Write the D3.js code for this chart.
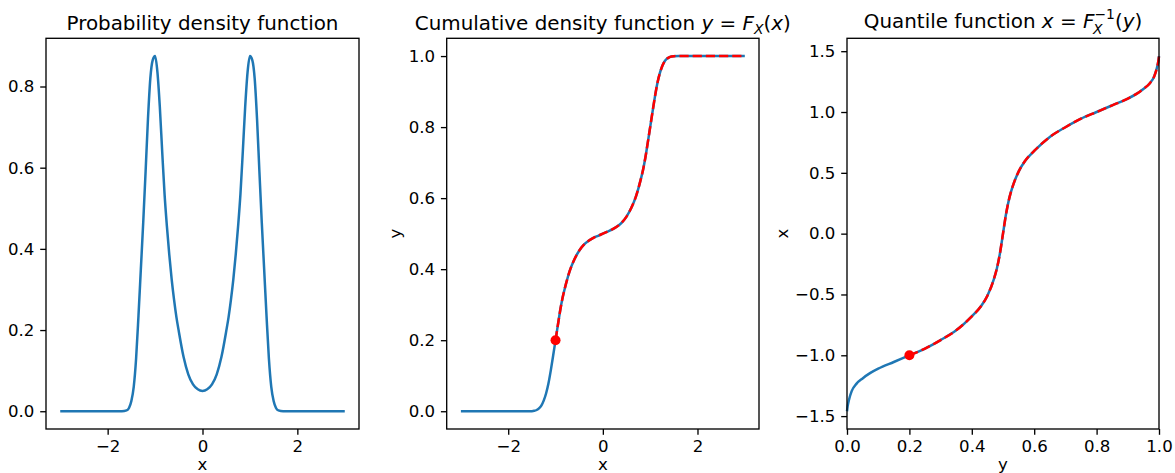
<!DOCTYPE html>
<html>
<head>
<meta charset="utf-8">
<script src="https://cdnjs.cloudflare.com/ajax/libs/d3/7.8.5/d3.min.js"></script>
<style>
body { margin: 0; background: #fff; }
svg { font-family: "DejaVu Sans", sans-serif; }
</style>
</head>
<body>
<div id="D3"></div>
<script>
// probability density
var pdfX = [-3, -1.7, -1.6, -1.55, -1.5, -1.45, -1.4, -1.35, -1.3, -1.25, -1.2, -1.15, -1.1, -1.05, -1.0,
	-0.95, -0.9, -0.85, -0.8, -0.75, -0.7, -0.65, -0.6, -0.55, -0.5, -0.4, -0.3, -0.2, -0.1, 0,
	0.1, 0.2, 0.3, 0.4, 0.5, 0.55, 0.6, 0.65, 0.7, 0.75, 0.8, 0.85, 0.9, 0.95, 1.0,
	1.05, 1.1, 1.15, 1.2, 1.25, 1.3, 1.35, 1.4, 1.45, 1.5, 1.55, 1.6, 1.7, 3];
var pdfY = [0, 0, 0.002, 0.008, 0.025, 0.06, 0.13, 0.235, 0.35, 0.465, 0.59, 0.72, 0.82, 0.865, 0.875,
	0.835, 0.75, 0.64, 0.535, 0.455, 0.385, 0.325, 0.275, 0.232, 0.197, 0.134, 0.091, 0.066, 0.054, 0.05,
	0.054, 0.066, 0.091, 0.134, 0.197, 0.232, 0.275, 0.325, 0.385, 0.455, 0.535, 0.64, 0.75, 0.835, 0.875,
	0.865, 0.82, 0.72, 0.59, 0.465, 0.35, 0.235, 0.13, 0.06, 0.025, 0.008, 0.002, 0, 0];

// cumulative density, middle panel
var cdfX = [-3, -1.6, -1.5, -1.45, -1.4, -1.35, -1.3, -1.25, -1.2, -1.15, -1.1, -1.05, -1.0,
	-0.95, -0.9, -0.85, -0.8, -0.75, -0.7, -0.6, -0.5, -0.4, -0.3, -0.2, -0.1, 0,
	0.1, 0.2, 0.3, 0.4, 0.5, 0.6, 0.7, 0.75, 0.8, 0.85, 0.9, 0.95, 1.0,
	1.05, 1.1, 1.15, 1.2, 1.25, 1.3, 1.35, 1.4, 1.45, 1.5, 1.6, 3];
var cdfY = [0, 0, 0.0003, 0.0012, 0.0035, 0.008, 0.016, 0.03, 0.05, 0.078, 0.115, 0.157, 0.2,
	0.243, 0.285, 0.32, 0.348, 0.373, 0.395, 0.428, 0.452, 0.469, 0.48, 0.488, 0.494, 0.5,
	0.506, 0.512, 0.52, 0.531, 0.548, 0.572, 0.605, 0.627, 0.652, 0.68, 0.715, 0.757, 0.8,
	0.843, 0.885, 0.922, 0.95, 0.97, 0.984, 0.992, 0.9965, 0.9988, 0.9997, 1, 1];

// quantile function, right panel
var qP = [0, 0.002, 0.006, 0.015, 0.03, 0.05, 0.075, 0.1, 0.15, 0.2, 0.25, 0.3, 0.35, 0.4, 0.43, 0.45, 0.47, 0.48, 0.49, 0.5,
	0.51, 0.52, 0.53, 0.55, 0.57, 0.6, 0.65, 0.7, 0.75, 0.8, 0.85, 0.9, 0.925, 0.95, 0.97, 0.985, 0.994, 0.998, 1];
var qX = [-1.46, -1.42, -1.37, -1.295, -1.235, -1.19, -1.145, -1.11, -1.055, -1.0, -0.945, -0.875, -0.795, -0.68, -0.595, -0.51, -0.38, -0.29, -0.165, 0,
	0.165, 0.29, 0.38, 0.51, 0.595, 0.68, 0.795, 0.875, 0.945, 1.0, 1.055, 1.11, 1.145, 1.19, 1.235, 1.295, 1.37, 1.42, 1.46];

// the marked point
var markX = -1.0;
var markP = 0.2;

// ticks
var xTicks = [-2, 0, 2];
var pdfTicks = [0, 0.2, 0.4, 0.6, 0.8];
var cdfTicks = [0, 0.2, 0.4, 0.6, 0.8, 1.0];
var qTicksP = [0, 0.2, 0.4, 0.6, 0.8, 1.0];
var qTicksX = [-1.5, -1.0, -0.5, 0, 0.5, 1.0, 1.5];

var blue = "#1f77b4";
var red = "#ff0000";
var plotTop = 38.3, plotBottom = 429;
var fs = 16.6;
var tfs = 19.9;

var svg = d3.select("#D3").append("svg")
	.attr("width", 1175)
	.attr("height", 473);

function makePanel(left, right, xDom, yDom, xT, yT, xFmt, yFmt) {
	var x = d3.scaleLinear().domain(xDom).range([left, right]);
	var y = d3.scaleLinear().domain(yDom).range([plotBottom, plotTop]);
	var g = svg.append("g");

	var ax = g.append("g")
		.attr("transform", "translate(0," + plotBottom + ")")
		.call(d3.axisBottom(x).tickValues(xT).tickFormat(xFmt).tickSize(5.8).tickPadding(5.6));
	var ay = g.append("g")
		.attr("transform", "translate(" + left + ",0)")
		.call(d3.axisLeft(y).tickValues(yT).tickFormat(yFmt).tickSize(5.8).tickPadding(5.8));
	[ax, ay].forEach(function (a) {
		a.select(".domain").remove();
		a.attr("font-size", fs).attr("font-family", "DejaVu Sans");
		a.selectAll("line").attr("stroke", "#000").attr("stroke-width", 1.33);
		a.selectAll("text").attr("fill", "#000");
	});
	return { x: x, y: y, g: g, left: left, right: right };
}

function frame(p) {
	p.g.append("rect")
		.attr("x", p.left)
		.attr("y", plotTop)
		.attr("width", p.right - p.left)
		.attr("height", plotBottom - plotTop)
		.attr("fill", "none")
		.attr("stroke", "#000")
		.attr("stroke-width", 1.33);
}

function drawLine(p, xs, ys, color, dashed) {
	var pts = xs.map(function (d, i) { return [d, ys[i]]; });
	var line = d3.line()
		.x(function (d) { return p.x(d[0]); })
		.y(function (d) { return p.y(d[1]); })
		.curve(d3.curveMonotoneX);
	var path = p.g.append("path")
		.attr("d", line(pts))
		.attr("fill", "none")
		.attr("stroke", color)
		.attr("stroke-width", 2.5);
	if (dashed) path.attr("stroke-dasharray", "9.2,4");
}

function title(cx, y0, parts) {
	var t = svg.append("text")
		.attr("x", cx)
		.attr("y", y0)
		.attr("text-anchor", "middle")
		.attr("font-size", tfs)
		.attr("fill", "#000");
	var shift = 0;
	parts.forEach(function (p) {
		var s = t.append("tspan").text(p[0]);
		var want = 0;
		if (p[1] == "i") s.attr("font-style", "italic");
		if (p[1] == "sub") { s.attr("font-style", "italic").attr("font-size", 13.9); want = 4.8; }
		if (p[1] == "sup") { s.attr("font-size", 13.9); want = -9; }
		if (want != shift) s.attr("dy", want - shift);
		shift = want;
	});
	return t;
}

function xlabel(p, txt) {
	svg.append("text")
		.attr("x", (p.left + p.right) / 2)
		.attr("y", 470)
		.attr("text-anchor", "middle")
		.attr("font-size", fs)
		.text(txt);
}

function ylabel(xpos, txt) {
	svg.append("text")
		.attr("transform", "translate(" + xpos + "," + ((plotTop + plotBottom) / 2) + ") rotate(-90)")
		.attr("text-anchor", "middle")
		.attr("font-size", fs)
		.text(txt);
}

var f1 = d3.format(".1f");
var fd = d3.format("d");

// panel 1: density
var p1 = makePanel(46, 359, [-3.3, 3.3], [-0.04375, 0.91875], xTicks, pdfTicks, fd, f1);
drawLine(p1, pdfX, pdfY, blue, false);
frame(p1);
title((p1.left + p1.right) / 2, 29.5, [["Probability density function", "n"]]);
xlabel(p1, "x");

// panel 2: cdf
var p2 = makePanel(446.7, 759, [-3.3, 3.3], [-0.05, 1.05], xTicks, cdfTicks, fd, f1);
drawLine(p2, cdfX, cdfY, blue, false);
var redX = cdfX.filter(function (d) { return d >= markX; });
var redY = cdfY.filter(function (d, i) { return cdfX[i] >= markX; });
drawLine(p2, redX, redY, red, true);
p2.g.append("circle")
	.attr("cx", p2.x(markX))
	.attr("cy", p2.y(markP))
	.attr("r", 5)
	.attr("fill", red);
frame(p2);
title((p2.left + p2.right) / 2, 29.5, [["Cumulative density function ", "n"], ["y", "i"], [" = ", "n"],
	["F", "i"], ["X", "sub"], ["(", "n"], ["x", "i"], [")", "n"]]);
xlabel(p2, "x");
ylabel(400.5, "y");

// panel 3: quantile
var p3 = makePanel(847, 1159, [0, 1], [-1.606, 1.606], qTicksP, qTicksX, f1, f1);
drawLine(p3, qP, qX, blue, false);
var redP = qP.filter(function (d) { return d >= markP; });
var redQ = qX.filter(function (d, i) { return qP[i] >= markP; });
drawLine(p3, redP, redQ, red, true);
p3.g.append("circle")
	.attr("cx", p3.x(markP))
	.attr("cy", p3.y(markX))
	.attr("r", 5)
	.attr("fill", red);
frame(p3);
var t3 = title((p3.left + p3.right) / 2, 28, [["Quantile function ", "n"], ["x", "i"], [" = ", "n"],
	["F", "i"], ["\u22121", "sup"], ["(", "n"], ["y", "i"], [")", "n"]]);
// subscript X sits under the superscript
var supIdx = "Quantile function x = F".length;
var pos = t3.node().getStartPositionOfChar(supIdx);
svg.append("text")
	.attr("x", pos.x - 1.5)
	.attr("y", 28 + 5.5)
	.attr("font-size", 13.9)
	.attr("font-style", "italic")
	.text("X");
xlabel(p3, "y");
ylabel(788, "x");
</script>
</body>
</html>
